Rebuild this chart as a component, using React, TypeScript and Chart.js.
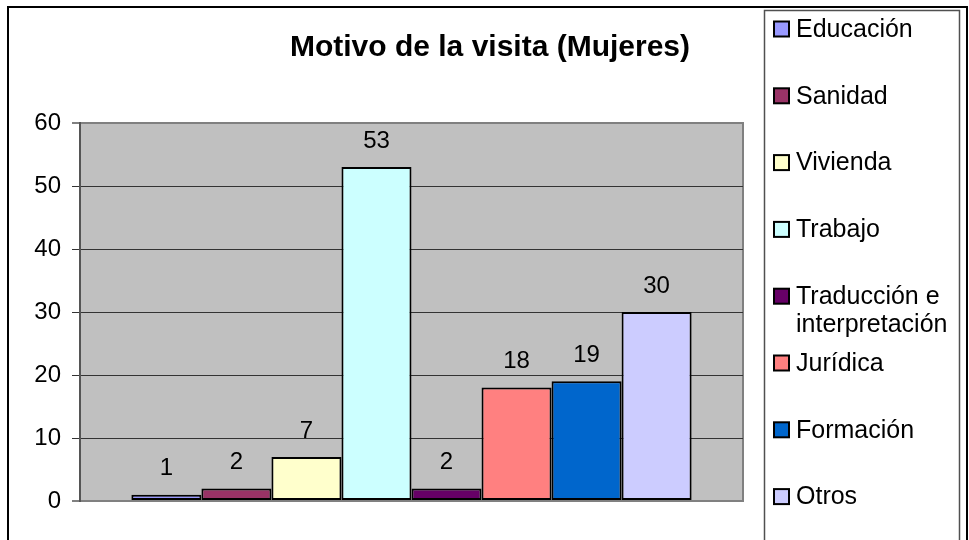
import React, { useEffect, useRef } from "react";
import { Chart, registerables } from "chart.js";

Chart.register(...registerables);

const CATEGORY = ["Motivo de la visita"];
const LABELS = [
  "Educación",
  "Sanidad",
  "Vivienda",
  "Trabajo",
  "Traducción e interpretación",
  "Jurídica",
  "Formación",
  "Otros",
];
const VALUES = [1, 2, 7, 53, 2, 18, 19, 30];
const COLORS = ["#9999FF", "#993366", "#FFFFCC", "#CCFFFF", "#660066", "#FF8080", "#0066CC", "#CCCCFF"];
const Y_MIN = 0;
const Y_MAX = 60;
const Y_STEP = 10;
const TITLE = "Motivo de la visita (Mujeres)";

const FONT = "'Liberation Sans', Arial, Helvetica, sans-serif";

const plotBackground = {
  id: "plotBackground",
  beforeDraw(chart: any) {
    const { ctx, chartArea } = chart;
    const { left, top, right, bottom } = chartArea;
    ctx.save();
    ctx.fillStyle = "#C0C0C0";
    ctx.fillRect(left, top, right - left, bottom - top);
    ctx.strokeStyle = "#808080";
    ctx.lineWidth = 2;
    ctx.strokeRect(left, top, right - left, bottom - top);
    ctx.restore();
  },
};

const dataLabels = {
  id: "dataLabels",
  afterDatasetsDraw(chart: any) {
    const { ctx } = chart;
    ctx.save();
    ctx.font = `24px ${FONT}`;
    ctx.fillStyle = "#000";
    ctx.textAlign = "center";
    ctx.textBaseline = "middle";
    chart.data.datasets.forEach((ds: any, i: number) => {
      const meta = chart.getDatasetMeta(i);
      meta.data.forEach((el: any, j: number) => {
        ctx.fillText(String(ds.data[j]), el.x, el.y - 26);
      });
    });
    ctx.restore();
  },
};

const decorations = {
  id: "decorations",
  afterDraw(chart: any) {
    const { ctx } = chart;
    ctx.save();
    // outer chart border
    ctx.strokeStyle = "#000";
    ctx.lineWidth = 2;
    ctx.beginPath();
    ctx.moveTo(8, 560);
    ctx.lineTo(8, 7);
    ctx.lineTo(967, 7);
    ctx.lineTo(967, 560);
    ctx.stroke();

    // title
    ctx.fillStyle = "#000";
    ctx.font = `bold 30px ${FONT}`;
    ctx.textAlign = "center";
    ctx.textBaseline = "alphabetic";
    ctx.fillText(TITLE, 490, 56);

    // legend box
    ctx.strokeStyle = "#505050";
    ctx.lineWidth = 1.5;
    ctx.beginPath();
    ctx.moveTo(764.5, 560);
    ctx.lineTo(764.5, 10.5);
    ctx.lineTo(959.5, 10.5);
    ctx.lineTo(959.5, 560);
    ctx.stroke();

    // legend items
    ctx.font = `25px ${FONT}`;
    ctx.textAlign = "left";
    ctx.textBaseline = "middle";
    const maxW = 160;
    chart.data.datasets.forEach((ds: any, i: number) => {
      const y = 29 + i * 66.8;
      ctx.fillStyle = ds.backgroundColor;
      ctx.fillRect(774, y - 7.5, 15, 15);
      ctx.strokeStyle = "#000";
      ctx.lineWidth = 2;
      ctx.strokeRect(774, y - 7.5, 15, 15);
      const words = String(ds.label).split(" ");
      const lines: string[] = [];
      let cur = "";
      words.forEach((w) => {
        const test = cur ? cur + " " + w : w;
        if (ctx.measureText(test).width > maxW && cur) {
          lines.push(cur);
          cur = w;
        } else {
          cur = test;
        }
      });
      if (cur) lines.push(cur);
      ctx.fillStyle = "#000";
      lines.forEach((ln, k) => ctx.fillText(ln, 796, y + 1 + k * 28));
    });
    ctx.restore();
  },
};

export default function App() {
  const canvasRef = useRef<HTMLCanvasElement | null>(null);

  useEffect(() => {
    if (!canvasRef.current) return;
    const chart = new Chart(canvasRef.current, {
      type: "bar",
      data: {
        labels: CATEGORY,
        datasets: LABELS.map((label, i) => ({
          label,
          data: [VALUES[i]],
          backgroundColor: COLORS[i],
          borderColor: "#000",
          borderWidth: 2,
          borderSkipped: false,
          categoryPercentage: 0.845,
          barPercentage: 1,
        })),
      },
      options: {
        animation: false,
        responsive: false,
        devicePixelRatio: 1,
        layout: { padding: { left: 0, right: 226, top: 123, bottom: 39 } },
        plugins: {
          legend: { display: false },
          title: { display: false },
          tooltip: { enabled: false },
        },
        scales: {
          x: { display: false },
          y: {
            min: Y_MIN,
            max: Y_MAX,
            afterFit(scale: any) {
              scale.width = 80;
            },
            ticks: {
              stepSize: Y_STEP,
              color: "#000",
              padding: 11,
              font: { family: FONT, size: 24 },
            },
            grid: {
              color: (c: any) =>
                c.tick && (c.tick.value === Y_MIN || c.tick.value === Y_MAX) ? "#808080" : "#333333",
              lineWidth: (c: any) =>
                c.tick && (c.tick.value === Y_MIN || c.tick.value === Y_MAX) ? 2 : 1,
              tickLength: 8,
            },
            border: { display: true, color: "#555555", width: 2 },
          },
        },
      },
      plugins: [plotBackground, dataLabels, decorations],
    });
    return () => chart.destroy();
  }, []);

  return (
    <div style={{ position: "fixed", left: 0, top: 0, width: 969, height: 540, background: "#fff", overflow: "hidden" }}>
      <canvas ref={canvasRef} width={969} height={540} style={{ display: "block" }} />
    </div>
  );
}
